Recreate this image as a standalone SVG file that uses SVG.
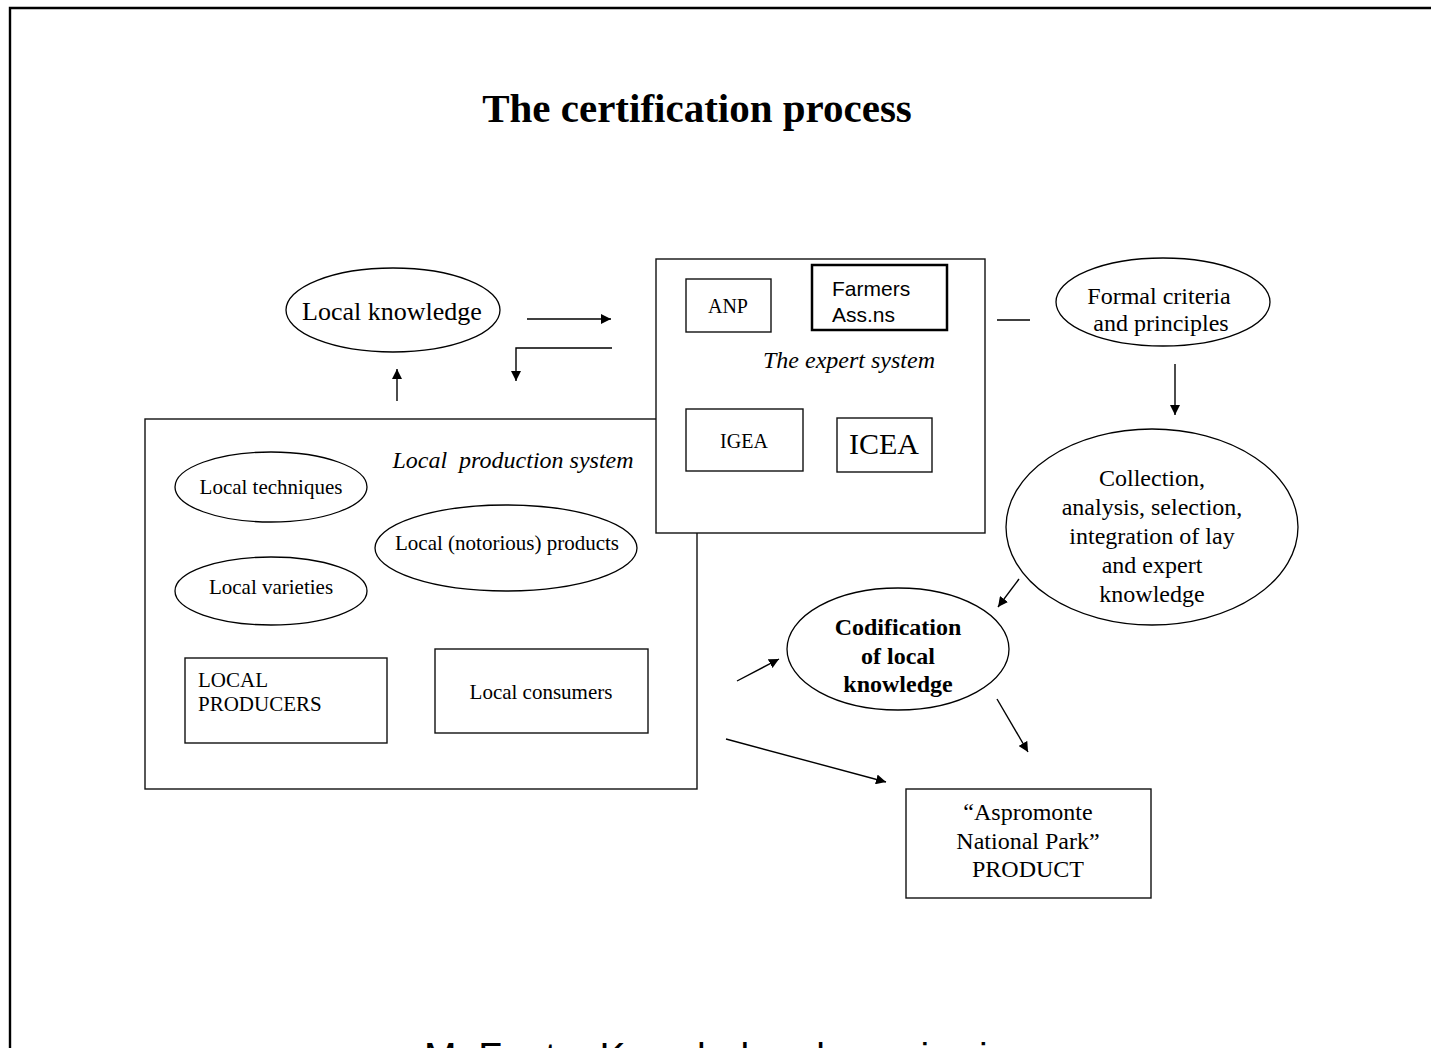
<svg xmlns="http://www.w3.org/2000/svg" width="1431" height="1048" viewBox="0 0 1431 1048">
<style>
.box{fill:#fff;stroke:#111;stroke-width:1.4}
.ell{fill:#fff;stroke:#000;stroke-width:1.3}
.t{font-family:"Liberation Serif","Times New Roman",serif;fill:#000}
.s{font-family:"Liberation Sans",Arial,sans-serif;fill:#000}
.c{stroke:#000;stroke-width:1.4;fill:none}
</style>
<defs>
<marker id="ah" viewBox="0 0 10 10" refX="10" refY="5" markerWidth="10" markerHeight="10" markerUnits="userSpaceOnUse" orient="auto">
<path d="M0,0 L10,5 L0,10 z" fill="#000"/>
</marker>
</defs>
<rect width="1431" height="1048" fill="#fff"/>
<path d="M10,1048 V8 H1431" fill="none" stroke="#000" stroke-width="2.4"/>
<text class="t" x="697" y="122" font-size="41" font-weight="bold" text-anchor="middle">The certification process</text>

<g id="local-production-system">
<rect class="box" x="145" y="419" width="552" height="370"/>
<text class="t" x="513" y="468" font-size="24" font-style="italic" text-anchor="middle" xml:space="preserve">Local  production system</text>
</g>
<g id="local-techniques">
<ellipse class="ell" cx="271" cy="487" rx="96" ry="35"/>
<text class="t" x="271" y="494" font-size="21" text-anchor="middle">Local techniques</text>
</g>
<g id="local-products">
<ellipse class="ell" cx="506" cy="548" rx="131" ry="43"/>
<text class="t" x="507" y="550" font-size="21" text-anchor="middle">Local (notorious) products</text>
</g>
<g id="local-varieties">
<ellipse class="ell" cx="271" cy="591" rx="96" ry="34"/>
<text class="t" x="271" y="594" font-size="21" text-anchor="middle">Local varieties</text>
</g>
<g id="local-producers">
<rect class="box" x="185" y="658" width="202" height="85"/>
<text class="t" x="198" y="687" font-size="21">LOCAL</text>
<text class="t" x="198" y="711" font-size="21">PRODUCERS</text>
</g>
<g id="local-consumers">
<rect class="box" x="435" y="649" width="213" height="84"/>
<text class="t" x="541" y="699" font-size="21" text-anchor="middle">Local consumers</text>
</g>

<g id="expert-system">
<rect class="box" x="656" y="259" width="329" height="274"/>
<text class="t" x="849" y="368" font-size="24" font-style="italic" text-anchor="middle">The expert system</text>
</g>
<g id="anp">
<rect class="box" x="686" y="279" width="85" height="53"/>
<text class="t" x="728" y="313" font-size="20" text-anchor="middle">ANP</text>
</g>
<g id="farmers">
<rect x="812" y="265" width="135" height="65" fill="#fff" stroke="#000" stroke-width="2.5"/>
<text class="s" x="832" y="296" font-size="21">Farmers</text>
<text class="s" x="832" y="322" font-size="21">Ass.ns</text>
</g>
<g id="igea">
<rect class="box" x="686" y="409" width="117" height="62"/>
<text class="t" x="744" y="448" font-size="20" text-anchor="middle">IGEA</text>
</g>
<g id="icea">
<rect class="box" x="837" y="418" width="95" height="54"/>
<text class="t" x="884" y="454" font-size="30" text-anchor="middle">ICEA</text>
</g>

<g id="local-knowledge">
<ellipse class="ell" cx="393" cy="310" rx="107" ry="42"/>
<text class="t" x="392" y="320" font-size="26" text-anchor="middle">Local knowledge</text>
</g>
<g id="formal-criteria">
<ellipse class="ell" cx="1163" cy="302" rx="107" ry="44"/>
<text class="t" x="1159" y="304" font-size="24" text-anchor="middle">Formal criteria</text>
<text class="t" x="1161" y="331" font-size="24" text-anchor="middle">and principles</text>
</g>
<g id="collection">
<ellipse class="ell" cx="1152" cy="527" rx="146" ry="98"/>
<text class="t" x="1152" y="486" font-size="24" text-anchor="middle">Collection,</text>
<text class="t" x="1152" y="515" font-size="24" text-anchor="middle">analysis, selection,</text>
<text class="t" x="1152" y="544" font-size="24" text-anchor="middle">integration of lay</text>
<text class="t" x="1152" y="573" font-size="24" text-anchor="middle">and expert</text>
<text class="t" x="1152" y="602" font-size="24" text-anchor="middle">knowledge</text>
</g>
<g id="codification">
<ellipse class="ell" cx="898" cy="649" rx="111" ry="61"/>
<text class="t" x="898" y="635" font-size="24" font-weight="bold" text-anchor="middle">Codification</text>
<text class="t" x="898" y="664" font-size="24" font-weight="bold" text-anchor="middle">of local</text>
<text class="t" x="898" y="692" font-size="24" font-weight="bold" text-anchor="middle">knowledge</text>
</g>
<g id="product">
<rect class="box" x="906" y="789" width="245" height="109"/>
<text class="t" x="1028" y="820" font-size="24" text-anchor="middle">“Aspromonte</text>
<text class="t" x="1028" y="849" font-size="24" text-anchor="middle">National Park”</text>
<text class="t" x="1028" y="877" font-size="24" text-anchor="middle">PRODUCT</text>
</g>

<g id="connectors">
<line class="c" x1="527" y1="319" x2="611" y2="319" marker-end="url(#ah)"/>
<polyline class="c" points="612,348 516,348 516,381" marker-end="url(#ah)"/>
<line class="c" x1="397" y1="401" x2="397" y2="369" marker-end="url(#ah)"/>
<line class="c" x1="997" y1="320" x2="1030" y2="320"/>
<line class="c" x1="1175" y1="364" x2="1175" y2="415" marker-end="url(#ah)"/>
<line class="c" x1="1019" y1="579" x2="998" y2="607" marker-end="url(#ah)"/>
<line class="c" x1="737" y1="681" x2="779" y2="659" marker-end="url(#ah)"/>
<line class="c" x1="997" y1="699" x2="1028" y2="752" marker-end="url(#ah)"/>
<line class="c" x1="726" y1="739" x2="886" y2="782" marker-end="url(#ah)"/>
</g>

<text class="s" x="424" y="1070" font-size="39">M. Fonte, Knowledge dynamics in</text>
</svg>
